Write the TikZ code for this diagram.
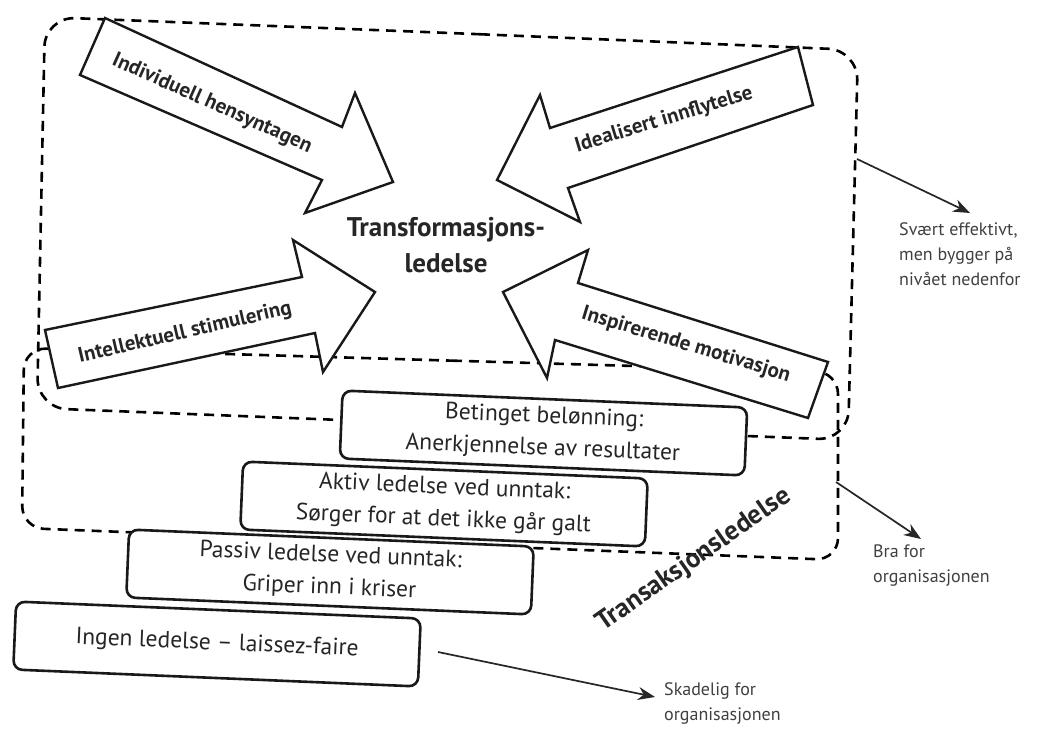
\documentclass[tikz,border=0pt]{standalone}
\usepackage{fontspec}
\setmainfont{PT Sans}
\usetikzlibrary{arrows.meta}
\begin{document}
\begin{tikzpicture}[x=1pt,y=-1pt,
  dashbox/.style={line width=2.6pt, dash pattern=on 10pt off 7pt, rounded corners=30pt},
  bigarrow/.style={draw=black!90, line width=2.4pt, fill=white, line join=miter},
  arrowlabel/.style={font=\fontsize{21}{24}\selectfont\bfseries, text=black!85},
  stepbox/.style={draw=black!90, line width=2.6pt, fill=white, rounded corners=9pt,
    minimum width=405pt, minimum height=68pt, rotate=-2.4, align=center,
    font=\fontsize{23.5}{32}\selectfont, text=black!85, inner sep=0pt},
  note/.style={font=\fontsize{18}{25}\selectfont, text=black!75, align=left, inner sep=0pt},
  notearrow/.style={line width=1.7pt, draw=black!85, -{Stealth[length=17pt,width=13pt]}}
]
\useasboundingbox[fill=white] (0,0) rectangle (1039,731);

% dashed group frames
\draw[dashbox] (450,33) -- (858,50) -- (848,440) -- (37,408) -- (45,17) -- cycle;
\draw[dashbox, rounded corners=22pt] (430,360) -- (838,372) -- (838,560) -- (22,528) -- (24,348) -- cycle;

% four block arrows
\draw[bigarrow] (105,18) -- (342,127) -- (355,93) -- (393,182) -- (305,213) -- (322,180) -- (80,75) -- cycle;
\node[arrowlabel, rotate=-24] (ih) at (212,104) {Individuell hensyntagen};

\draw[bigarrow] (45,330) -- (302,277) -- (293,240) -- (375,292) -- (323,372) -- (315,333) -- (58,388) -- cycle;
\node[arrowlabel, rotate=13] (is) at (185,333) {Intellektuell stimulering};

\draw[bigarrow] (798,47) -- (550,128) -- (540,95) -- (497,180) -- (580,222) -- (568,188) -- (813,105) -- cycle;
\node[arrowlabel, rotate=17] (ii) at (664,120) {Idealisert innflytelse};

\draw[bigarrow] (588,250) -- (503,292) -- (547,378) -- (555,340) -- (808,418) -- (828,362) -- (578,283) -- cycle;
\node[arrowlabel, rotate=-17] (im) at (686,345) {Inspirerende motivasjon};

\node[font=\fontsize{27}{36}\selectfont\bfseries, text=black!85, align=center] (tf) at (446,245) {Transformasjons-\\ledelse};

% staircase of boxes
\node[stepbox] (b1) at (543.5,433) {Betinget belønning:\\Anerkjennelse av resultater};
\node[stepbox] (b2) at (444,504) {Aktiv ledelse ved unntak:\\Sørger for at det ikke går galt};
\node[stepbox] (b3) at (330,572) {Passiv ledelse ved unntak:\\Griper inn i kriser};
\node[stepbox] (b4) at (217,644) {Ingen ledelse – laissez-faire};

\node[font=\fontsize{27}{30}\selectfont\bfseries, text=black!85, rotate=35] (ts) at (694,560) {Transaksjonsledelse};

% notes
\coordinate (s1) at (857,159);
\coordinate (e1) at (970,213);
\node[note, anchor=north west] (n1) at (899,222) {Svært effektivt,\\men bygger på\\nivået nedenfor};
\draw[notearrow] (s1) -- (e1);

\coordinate (s2) at (836,482);
\coordinate (e2) at (921,539);
\node[note, anchor=north west] (n2) at (873,545) {Bra for\\organisasjonen};
\draw[notearrow] (s2) -- (e2);

\coordinate (s3) at (438,652);
\coordinate (e3) at (655,697);
\node[note, anchor=north west] (n3) at (664,682) {Skadelig for\\organisasjonen};
\draw[notearrow] (s3) -- (e3);
\end{tikzpicture}
\end{document}
